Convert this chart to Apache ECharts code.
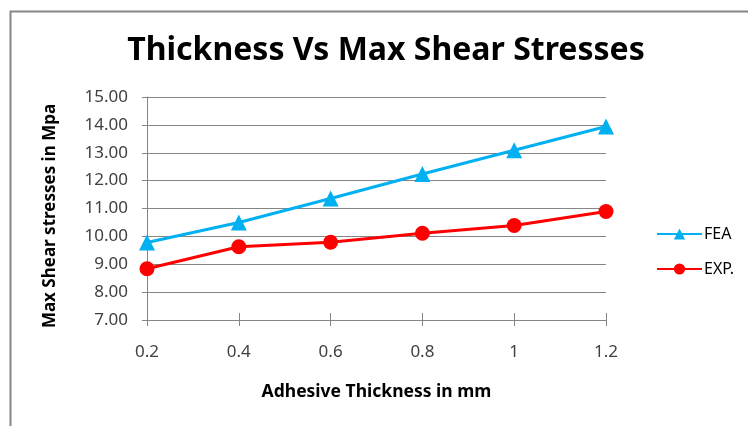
<!DOCTYPE html>
<html>
<head>
<meta charset="utf-8">
<script src="https://cdn.jsdelivr.net/npm/echarts@6/dist/echarts.min.js"></script>
<style>html,body{margin:0;padding:0;background:#fff}#c{width:748px;height:426px}</style>
</head>
<body>
<div id="c"></div>
<script>
const categories = ['0.2', '0.4', '0.6', '0.8', '1', '1.2'];
const feaValues = [9.78, 10.50, 11.36, 12.24, 13.09, 13.94];
const expValues = [8.84, 9.63, 9.79, 10.11, 10.39, 10.89];
const yTicks = { min: 7, max: 15, interval: 1 };

const chart = echarts.init(document.getElementById('c'));
const font = 'Noto Sans';
chart.setOption({
  backgroundColor: '#fff',
  animation: false,
  title: {
    text: 'Thickness Vs Max Shear Stresses',
    left: 381, top: 30, textAlign: 'center',
    textStyle: { fontFamily: font, fontWeight: 'bold', fontSize: 32, color: '#000' }
  },
  graphic: [{
    type: 'polyline',
    shape: { points: [[10.5, 430], [10.5, 11.5], [760, 11.5]] },
    style: { stroke: '#868686', lineWidth: 2, fill: null }
  }],
  legend: {
    orient: 'vertical', left: 651, top: 221,
    itemWidth: 45, itemHeight: 14, itemGap: 19,
    textStyle: { fontFamily: font, fontSize: 16, color: '#000', padding: [0, 0, 0, -3] },
    data: ['FEA', 'EXP.']
  },
  grid: { left: 147, right: 142, top: 97, bottom: 106 },
  xAxis: [{
    type: 'category', data: categories, boundaryGap: false,
    name: 'Adhesive Thickness in mm', nameLocation: 'middle', nameGap: 63,
    nameTextStyle: { fontFamily: font, fontWeight: 'bold', fontSize: 17.5, color: '#000' },
    axisLine: { show: true, lineStyle: { color: '#868686', width: 1 } },
    axisTick: { show: true, alignWithLabel: true, length: 6, lineStyle: { color: '#868686' } },
    axisLabel: { fontFamily: font, fontSize: 17, color: '#404040', margin: 24 }
  }, {
    type: 'category', data: categories, boundaryGap: false, position: 'bottom',
    axisLine: { show: false },
    axisTick: { show: true, inside: true, length: 7, lineStyle: { color: '#868686' } },
    axisLabel: { show: false }
  }],
  yAxis: {
    type: 'value', min: yTicks.min, max: yTicks.max, interval: yTicks.interval,
    name: 'Max Shear stresses in Mpa', nameLocation: 'middle', nameGap: 88,
    nameTextStyle: { fontFamily: font, fontWeight: 'bold', fontSize: 17, color: '#000',
      padding: [0, 15, 0, 0] },
    axisLine: { show: true, lineStyle: { color: '#868686' } },
    axisTick: { show: true, length: 5, lineStyle: { color: '#868686' } },
    axisLabel: { fontFamily: font, fontSize: 17, color: '#404040', margin: 19,
      formatter: v => v.toFixed(2) },
    splitLine: { show: true, lineStyle: { color: '#868686', width: 1 } }
  },
  series: [{
    name: 'FEA', type: 'line', data: feaValues,
    symbol: 'triangle', symbolSize: 16,
    lineStyle: { color: '#00B0F0', width: 3 },
    itemStyle: { color: '#00B0F0' }
  }, {
    name: 'EXP.', type: 'line', data: expValues,
    symbol: 'circle', symbolSize: 15,
    lineStyle: { color: '#FF0000', width: 3 },
    itemStyle: { color: '#FF0000' }
  }]
});
</script>
</body>
</html>
